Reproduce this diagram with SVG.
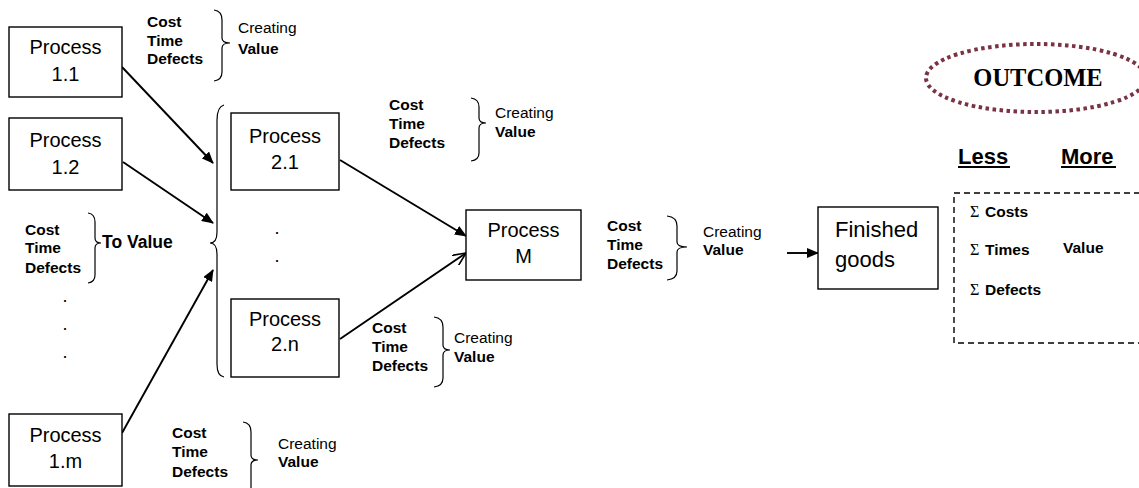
<svg xmlns="http://www.w3.org/2000/svg" width="1139" height="488" viewBox="0 0 1139 488">
<style>
.box{fill:#fff;stroke:#000;stroke-width:1.4}
.bt{font-family:"Liberation Sans",Arial,sans-serif;font-size:20px;fill:#000;text-anchor:middle}
.lb{font-family:"Liberation Sans",Arial,sans-serif;font-size:15.5px;font-weight:bold;fill:#000}
.lr{font-family:"Liberation Sans",Arial,sans-serif;font-size:15.5px;fill:#000}
.br{fill:none;stroke:#000;stroke-width:1.2}
.ar{fill:none;stroke:#000;stroke-width:1.9}
.dot{font-family:"Liberation Sans",Arial,sans-serif;font-size:18px;fill:#000;text-anchor:middle}
.sg{font-family:"Liberation Serif","Times New Roman",serif;font-size:16px;fill:#000}
</style>
<defs>
<marker id="fa" viewBox="0 0 12 10" refX="11" refY="5" markerWidth="12" markerHeight="10" markerUnits="userSpaceOnUse" orient="auto">
<path d="M0,0 L12,5 L0,10 Z" fill="#000"/>
</marker>
<marker id="oa" viewBox="0 0 14 12" refX="13" refY="6" markerWidth="14" markerHeight="12" markerUnits="userSpaceOnUse" orient="auto">
<path d="M0,0 L13,6 L0,12" fill="none" stroke="#000" stroke-width="1.6"/>
</marker>
</defs>

<g id="connectors">
<line class="ar" x1="122" y1="67" x2="213" y2="163" marker-end="url(#fa)"/>
<line class="ar" x1="123" y1="162" x2="213" y2="223" marker-end="url(#fa)"/>
<line class="ar" x1="122" y1="433" x2="213" y2="270" marker-end="url(#fa)"/>
<line class="ar" x1="340" y1="160" x2="466" y2="236" marker-end="url(#fa)"/>
<line class="ar" x1="340" y1="339" x2="466" y2="253" marker-end="url(#oa)"/>
<line class="ar" x1="787" y1="253" x2="818" y2="253" marker-end="url(#fa)"/>
</g>

<g id="p11"><rect class="box" x="9" y="27" width="113" height="70"/><text class="bt" x="65.5" y="54">Process</text><text class="bt" x="65.5" y="81">1.1</text></g>
<g id="p12"><rect class="box" x="9" y="118" width="113" height="72"/><text class="bt" x="65.5" y="147">Process</text><text class="bt" x="65.5" y="174">1.2</text></g>
<g id="p1m"><rect class="box" x="9" y="414" width="113" height="72"/><text class="bt" x="65.5" y="442">Process</text><text class="bt" x="65.5" y="468">1.m</text></g>
<g id="p21"><rect class="box" x="231" y="113" width="108" height="77"/><text class="bt" x="285" y="143">Process</text><text class="bt" x="285" y="169">2.1</text></g>
<g id="p2n"><rect class="box" x="231" y="299" width="108" height="78"/><text class="bt" x="285" y="326">Process</text><text class="bt" x="285" y="351">2.n</text></g>
<g id="pM"><rect class="box" x="466" y="210" width="115" height="70"/><text class="bt" x="523.5" y="237">Process</text><text class="bt" x="523.5" y="263">M</text></g>
<g id="fg"><rect class="box" x="818" y="207" width="120" height="82"/><text class="bt" x="835" y="237" style="text-anchor:start;font-size:22px">Finished</text><text class="bt" x="835" y="267" style="text-anchor:start;font-size:22px">goods</text></g>

<g id="bigbrace">
<path class="br" d="M224,105 Q217,107 217,120 L217,232 Q217,243 210,243 Q217,243 217,254 L217,364 Q217,376 224,377"/>
</g>

<g id="dots-left">
<text class="dot" x="65" y="302">.</text>
<text class="dot" x="65" y="330">.</text>
<text class="dot" x="65" y="358">.</text>
</g>
<g id="dots-mid">
<text class="dot" x="277" y="234">.</text>
<text class="dot" x="277" y="262">.</text>
</g>

<g id="lbl1">
<text class="lb" x="147" y="27">Cost</text><text class="lb" x="147" y="46">Time</text><text class="lb" x="147" y="64">Defects</text>
<path class="br" d="M214,10 Q222,11 222,20 L222,38 Q222,43 230,43 Q222,43 222,48 L222,72 Q222,80 214,81"/>
<text class="lr" x="238" y="33">Creating</text><text class="lb" x="238" y="54">Value</text>
</g>
<g id="lbl2">
<text class="lb" x="389" y="110">Cost</text><text class="lb" x="389" y="129">Time</text><text class="lb" x="389" y="148">Defects</text>
<path class="br" d="M471,98 Q479,99 479,107 L479,118 Q479,123 486,123 Q479,123 479,128 L479,153 Q479,160 471,161"/>
<text class="lr" x="495" y="118">Creating</text><text class="lb" x="495" y="137">Value</text>
</g>
<g id="lbl3">
<text class="lb" x="372" y="333">Cost</text><text class="lb" x="372" y="352">Time</text><text class="lb" x="372" y="371">Defects</text>
<path class="br" d="M434,317 Q443,318 443,327 L443,345 Q443,350 450,350 Q443,350 443,355 L443,378 Q443,386 434,387"/>
<text class="lr" x="454" y="343">Creating</text><text class="lb" x="454" y="362">Value</text>
</g>
<g id="lbl4">
<text class="lb" x="607" y="231">Cost</text><text class="lb" x="607" y="250">Time</text><text class="lb" x="607" y="269">Defects</text>
<path class="br" d="M667,216 Q677,217 677,226 L677,242 Q677,247 687,247 Q677,247 677,252 L677,271 Q677,279 667,280"/>
<text class="lr" x="703" y="237">Creating</text><text class="lb" x="703" y="255">Value</text>
</g>
<g id="lbl5">
<text class="lb" x="172" y="438">Cost</text><text class="lb" x="172" y="457">Time</text><text class="lb" x="172" y="477">Defects</text>
<path class="br" d="M243,422 Q251,423 251,432 L251,455 Q251,460 258,460 Q251,460 251,465 L251,490"/>
<text class="lr" x="278" y="449">Creating</text><text class="lb" x="278" y="467">Value</text>
</g>
<g id="lbl6">
<text class="lb" x="25" y="235">Cost</text><text class="lb" x="25" y="253">Time</text><text class="lb" x="25" y="273">Defects</text>
<path class="br" d="M88,213 Q95,214 95,222 L95,238 Q95,243 101,243 Q95,243 95,248 L95,275 Q95,282 88,283"/>
<text class="lb" x="102" y="248" style="font-size:17.5px">To Value</text>
</g>

<g id="outcome">
<ellipse cx="1036" cy="78" rx="110" ry="34" fill="none" stroke="#7a3344" stroke-width="4" stroke-dasharray="3.5 3.5"/>
<text x="1038" y="86" font-family="'Liberation Serif','Times New Roman',serif" font-size="24.5" font-weight="bold" text-anchor="middle">OUTCOME</text>
</g>
<g id="lessmore">
<text x="958" y="164" font-family="'Liberation Sans',Arial,sans-serif" font-size="22" font-weight="bold">Less</text>
<line x1="958" y1="167" x2="1010" y2="167" stroke="#000" stroke-width="2"/>
<text x="1061" y="164" font-family="'Liberation Sans',Arial,sans-serif" font-size="22" font-weight="bold">More</text>
<line x1="1061" y1="167" x2="1116" y2="167" stroke="#000" stroke-width="2"/>
</g>
<g id="result">
<rect x="954" y="193" width="200" height="150" fill="none" stroke="#000" stroke-width="1.4" stroke-dasharray="6 4"/>
<text class="sg" x="970" y="217">Σ</text><text class="lb" x="985" y="217">Costs</text>
<text class="sg" x="970" y="255">Σ</text><text class="lb" x="985" y="255">Times</text>
<text class="sg" x="970" y="295">Σ</text><text class="lb" x="985" y="295">Defects</text>
<text class="lb" x="1063" y="253">Value</text>
</g>
</svg>
